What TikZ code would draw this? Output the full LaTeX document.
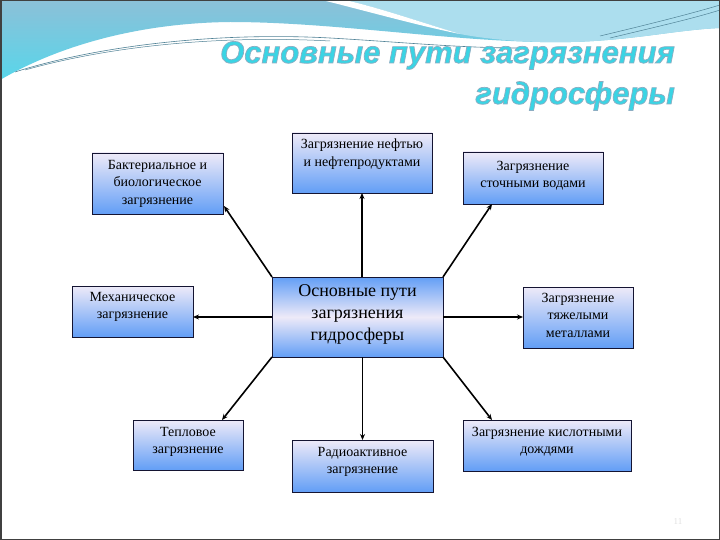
\documentclass[tikz,border=0pt]{standalone}
\usepackage{fontspec}
\setmainfont{Liberation Serif}
\newfontfamily\titlefont{Liberation Sans}
\usetikzlibrary{arrows.meta,calc}
\definecolor{boxtop}{RGB}{238,234,248}
\definecolor{boxbot}{RGB}{98,158,246}
\definecolor{boxline}{RGB}{20,20,50}
\definecolor{bandtop}{RGB}{140,192,216}
\definecolor{bandbot}{RGB}{88,214,234}
\definecolor{lightband}{RGB}{172,222,238}
\definecolor{wline}{RGB}{80,130,150}
\definecolor{titlecol}{RGB}{58,212,228}
\newcommand{\outlinetext}[1]{\special{pdf:literal direct 2 Tr 0.7 w 0.55 0.68 0.76 RG}#1\special{pdf:literal direct 0 Tr}}
\tikzset{
  pbox/.style={draw=boxline, line width=0.8pt, top color=boxtop, bottom color=boxbot, inner sep=0pt, outer sep=0pt, anchor=north west},
  cbox/.style={draw=boxline, line width=0.8pt, top color=boxbot, bottom color=boxbot, middle color=boxtop, inner sep=0pt, outer sep=0pt, anchor=north west},
  btext/.style={anchor=north, inner sep=0pt, align=center, font=\fontsize{14}{17.5}\selectfont},
  ctext/.style={anchor=north, inner sep=0pt, align=center, font=\fontsize{18}{22}\selectfont},
  conn/.style={line width=1.6pt, -{Stealth[length=6pt,width=5pt]}},
  ttl/.style={anchor=base east, inner sep=0pt, text=titlecol, font=\titlefont\fontsize{31}{36}\selectfont\bfseries\itshape}
}
\begin{document}
\begin{tikzpicture}[x=1pt,y=-1pt]
\useasboundingbox (0,0) rectangle (720,540);
\fill[white] (0,0) rectangle (720,540);
% header band
\shade[top color=bandtop, bottom color=bandbot]
  (0,0) -- (720,0) -- (720,28) .. controls (670,30) and (620,44) .. (540,42)
  .. controls (440,40) and (330,22) .. (230,22)
  .. controls (140,23) and (60,45) .. (0,80) -- cycle;
% lighter upper-right swoosh
\fill[lightband]
  (345,0) -- (720,0) -- (720,28) .. controls (670,30) and (620,44) .. (540,42)
  .. controls (500,41) and (470,36) .. (460,34) .. controls (420,22) and (380,8) .. (345,0) -- cycle;
% white stripe
\fill[white] (322,0) -- (345,0) .. controls (380,8) and (420,22) .. (460,34)
  .. controls (420,26) and (370,12) .. (322,0) -- cycle;
% thin wave lines
\draw[wline, line width=0.6pt] (15,72) .. controls (100,45) and (220,32) .. (330,38) .. controls (400,42) and (460,48) .. (520,48);
\draw[wline, line width=0.5pt] (25,70) .. controls (110,46) and (220,35) .. (330,41);
\draw[wline, line width=0.5pt] (600,36) .. controls (650,24) and (690,14) .. (720,5);
\draw[wline, line width=0.5pt] (610,38) .. controls (660,26) and (695,18) .. (720,10);
% title
\node[ttl] (t1) at (675,63) {\outlinetext{Основные пути загрязнения}};
\node[ttl] (t2) at (675,104) {\outlinetext{гидросферы}};
% boxes
\node[pbox, minimum width=131pt, minimum height=61pt] (bact) at (92,153) {};
\node[btext] (bactT) at ($(bact.north)+(0,7)$) {Бактериальное и\\биологическое\\загрязнение};
\node[pbox, minimum width=140pt, minimum height=60pt] (oil) at (292,133) {};
\node[btext] (oilT) at ($(oil.north)+(0,6)$) {Загрязнение нефтью\\и нефтепродуктами};
\node[pbox, minimum width=140pt, minimum height=52pt] (sew) at (463,152) {};
\node[btext] (sewT) at ($(sew.north)+(0,9)$) {Загрязнение\\сточными водами};
\node[cbox, minimum width=171pt, minimum height=80pt] (c) at (272,277) {};
\node[ctext] (cT) at ($(c.north)+(0,7)$) {Основные пути\\загрязнения\\гидросферы};
\node[pbox, minimum width=121pt, minimum height=51pt] (mech) at (72,286) {};
\node[btext] (mechT) at ($(mech.north)+(0,6)$) {Механическое\\загрязнение};
\node[pbox, minimum width=110pt, minimum height=61pt] (heavy) at (523,287) {};
\node[btext] (heavyT) at ($(heavy.north)+(0,6)$) {Загрязнение\\тяжелыми\\металлами};
\node[pbox, minimum width=110pt, minimum height=50pt] (therm) at (133,420) {};
\node[btext] (thermT) at ($(therm.north)+(0,7)$) {Тепловое\\загрязнение};
\node[pbox, minimum width=141pt, minimum height=52pt] (radio) at (292,440) {};
\node[btext] (radioT) at ($(radio.north)+(0,7)$) {Радиоактивное\\загрязнение};
\node[pbox, minimum width=168pt, minimum height=51pt] (acid) at (463,420) {};
\node[btext] (acidT) at ($(acid.north)+(0,7)$) {Загрязнение кислотными\\дождями};
% connectors
\draw[conn] (c.north west) -- ($(bact.south east)+(1,-8)$);
\draw[conn] (c.north -| oil.south) -- (oil.south);
\draw[conn] (c.north east) -- ($(sew.south west)+(29,0)$);
\draw[conn] (c.east) -- (c.east -| heavy.west);
\draw[conn] (c.west) -- (c.west -| mech.east);
\draw[conn] (c.south west) -- ($(therm.north east)+(-21,0)$);
\draw[conn] (c.south -| radio.north) -- (radio.north);
\draw[conn] (c.south east) -- ($(acid.north west)+(29,0)$);
% page number
\node[inner sep=0pt, text=black!12, font=\fontsize{9}{10}\selectfont] (pg) at (678,522) {11};
% frame
\draw[black!75, line width=1.5pt] (0.75,0.75) rectangle (719.25,539.25);
\end{tikzpicture}
\end{document}
